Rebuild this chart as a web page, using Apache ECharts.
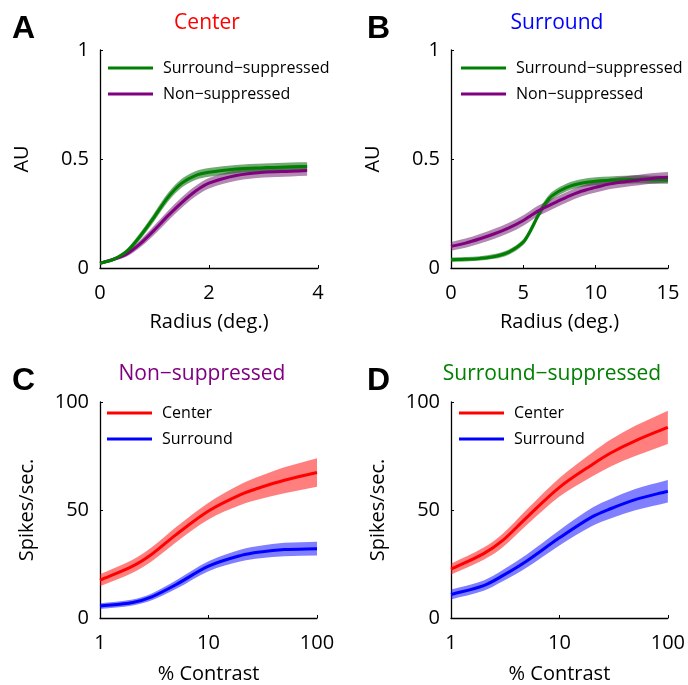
<!DOCTYPE html>
<html>
<head>
<meta charset="utf-8">
<script src="https://cdn.jsdelivr.net/npm/echarts@6/dist/echarts.min.js"></script>
<style>
  html, body { margin: 0; padding: 0; background: #fff; }
  #chart { width: 688px; height: 685px; }
</style>
</head>
<body>
<div id="chart"></div>
<script>
// ---- Radius tuning, center mechanism (deg.) ----
const radiusCenter = [0, 0.25, 0.5, 0.75, 1, 1.25, 1.5, 1.75, 2, 2.5, 3, 3.5, 3.8];
const centerSuppMean = [0.022, 0.04, 0.078, 0.15, 0.236, 0.325, 0.389, 0.424, 0.439, 0.454, 0.46, 0.465, 0.466];
const centerSuppSem  = [0.006, 0.008, 0.012, 0.016, 0.019, 0.02, 0.02, 0.02, 0.02, 0.019, 0.019, 0.019, 0.019];
const centerNonMean  = [0.022, 0.04, 0.066, 0.114, 0.175, 0.24, 0.30, 0.352, 0.389, 0.424, 0.439, 0.444, 0.447];
const centerNonSem   = [0.006, 0.008, 0.012, 0.017, 0.021, 0.023, 0.024, 0.024, 0.024, 0.024, 0.024, 0.024, 0.024];

// ---- Radius tuning, surround mechanism (deg.) ----
const radiusSurround = [0, 1, 2, 3, 4, 5, 5.5, 6, 6.5, 7, 8, 9, 10, 11, 12, 13, 14, 15];
const surrSuppMean = [0.038, 0.04, 0.044, 0.053, 0.073, 0.119, 0.172, 0.238, 0.294, 0.332, 0.37, 0.389, 0.398, 0.402, 0.405, 0.407, 0.405, 0.404];
const surrSuppSem  = [0.01, 0.01, 0.01, 0.011, 0.012, 0.014, 0.016, 0.017, 0.018, 0.018, 0.018, 0.018, 0.018, 0.018, 0.018, 0.018, 0.018, 0.018];
const surrNonMean  = [0.099, 0.114, 0.134, 0.157, 0.184, 0.218, 0.24, 0.261, 0.278, 0.294, 0.325, 0.352, 0.37, 0.386, 0.396, 0.404, 0.412, 0.416];
const surrNonSem   = [0.02, 0.021, 0.022, 0.023, 0.024, 0.024, 0.024, 0.024, 0.024, 0.024, 0.024, 0.024, 0.024, 0.024, 0.024, 0.024, 0.024, 0.024];

// ---- Contrast response (% contrast, spikes/sec.) ----
const contrast = [1, 2, 3, 5, 10, 20, 30, 50, 100];
const nonCenterMean = [17.5, 24.0, 29.5, 38.5, 49.5, 57.2, 60.4, 63.8, 67.4];
const nonCenterSem  = [2.8, 3.0, 3.2, 3.5, 3.9, 4.8, 5.3, 6.0, 6.6];
const nonSurrMean   = [5.5, 7.2, 9.8, 15.4, 24.0, 29.0, 30.6, 31.7, 32.1];
const nonSurrSem    = [1.3, 1.4, 1.6, 2.0, 2.3, 2.7, 2.9, 3.1, 3.2];
const suppCenterMean = [22.6, 29.8, 35.9, 46.6, 60.5, 71.0, 76.5, 82.0, 88.3];
const suppCenterSem  = [2.5, 2.8, 3.1, 3.6, 4.3, 5.5, 6.2, 7.0, 7.7];
const suppSurrMean   = [10.9, 15.0, 19.6, 26.4, 37.1, 46.8, 50.7, 54.8, 58.7];
const suppSurrSem    = [2.3, 2.4, 2.6, 3.0, 3.5, 4.2, 4.5, 4.9, 5.2];

// ---- Labels ----
const panelLetters = ['A', 'B', 'C', 'D'];
const panelTitles = ['Center', 'Surround', 'Non\u2212suppressed', 'Surround\u2212suppressed'];
const groupNames = ['Surround\u2212suppressed', 'Non\u2212suppressed'];
const mechNames = ['Center', 'Surround'];
const radiusTicks = [[0, 4, 2], [0, 15, 5]];
const auTicks = [0, 1, 0.5];
const rateTicks = [0, 100, 50];

const FONT = '"Open Sans", "Noto Sans", sans-serif';
const GREEN = '#008000', PURPLE = '#800080', RED = '#ff0000', BLUE = '#0000ff';
const bandColor = {
  [GREEN]: 'rgba(0,100,0,0.55)',
  [PURPLE]: 'rgba(100,20,100,0.5)',
  [RED]: 'rgba(255,0,0,0.5)',
  [BLUE]: 'rgba(0,0,255,0.5)'
};

const grids = [
  { left: 100, top: 50, width: 218, height: 218 },
  { left: 451, top: 50, width: 217, height: 218 },
  { left: 100, top: 402, width: 217, height: 216 },
  { left: 451, top: 402, width: 217, height: 216 }
];

function axisCommon(extra) {
  return Object.assign({
    axisLine: { show: true, onZero: false, lineStyle: { color: '#000', width: 1.3 } },
    axisTick: { show: true, inside: true, length: 3, lineStyle: { color: '#000', width: 1 } },
    axisLabel: { color: '#000', fontSize: 20, fontFamily: FONT },
    splitLine: { show: false },
    nameLocation: 'middle',
    nameTextStyle: { color: '#000', fontSize: 20, fontFamily: FONT }
  }, extra);
}

const xAxes = [
  axisCommon({ gridIndex: 0, type: 'value', min: radiusTicks[0][0], max: radiusTicks[0][1], interval: radiusTicks[0][2], name: 'Radius (deg.)', nameGap: 44 }),
  axisCommon({ gridIndex: 1, type: 'value', min: radiusTicks[1][0], max: radiusTicks[1][1], interval: radiusTicks[1][2], name: 'Radius (deg.)', nameGap: 44 }),
  axisCommon({ gridIndex: 2, type: 'log', logBase: 10, min: 1, max: 100, name: '% Contrast', nameGap: 46 }),
  axisCommon({ gridIndex: 3, type: 'log', logBase: 10, min: 1, max: 100, name: '% Contrast', nameGap: 46 })
];
xAxes.forEach(a => { a.axisLabel = Object.assign({}, a.axisLabel, { margin: 15 }); });

const yAxes = [0, 1, 2, 3].map(i => {
  const t = i < 2 ? auTicks : rateTicks;
  return axisCommon({
    gridIndex: i, type: 'value', min: t[0], max: t[1], interval: t[2],
    name: i < 2 ? 'AU' : 'Spikes/sec.', nameGap: i < 2 ? 68 : 63
  });
});
yAxes.forEach(a => { a.axisLabel = Object.assign({}, a.axisLabel, { margin: 11 }); });

// Cubic Hermite segments through pixel points ordered by x
function smoothSegments(pts) {
  const n = pts.length;
  const slope = pts.map((p, i) => {
    const a = pts[Math.max(i - 1, 0)], b = pts[Math.min(i + 1, n - 1)];
    return (b[1] - a[1]) / (b[0] - a[0]);
  });
  const segs = [];
  for (let i = 0; i < n - 1; i++) {
    const p1 = pts[i], p2 = pts[i + 1];
    const h = (p2[0] - p1[0]) / 3;
    segs.push([[p1[0] + h, p1[1] + slope[i] * h], [p2[0] - h, p2[1] - slope[i + 1] * h], p1, p2]);
  }
  return segs;
}
function forwardPath(segs) {
  return segs.map(s => ' C' + s[0][0] + ',' + s[0][1] + ' ' + s[1][0] + ',' + s[1][1] + ' ' + s[3][0] + ',' + s[3][1]).join('');
}
function backwardPath(segs) {
  return segs.slice().reverse().map(s => ' C' + s[1][0] + ',' + s[1][1] + ' ' + s[0][0] + ',' + s[0][1] + ' ' + s[2][0] + ',' + s[2][1]).join('');
}

// Shaded error band: lower edge left to right, upper edge back, closed
function bandSeries(gi, xs, mean, sem, color) {
  const data = xs.map((x, k) => [x, mean[k] - sem[k], mean[k] + sem[k]]);
  return {
    type: 'custom', xAxisIndex: gi, yAxisIndex: gi, silent: true, z: 1,
    data: data, encode: { x: 0, y: [1, 2] },
    renderItem: function (params, api) {
      if (params.dataIndex !== 0) return null;
      const lo = data.map(d => api.coord([d[0], d[1]]));
      const hi = data.map(d => api.coord([d[0], d[2]]));
      const last = hi[hi.length - 1];
      const pathData = 'M' + lo[0][0] + ',' + lo[0][1] + forwardPath(smoothSegments(lo)) +
        ' L' + last[0] + ',' + last[1] + backwardPath(smoothSegments(hi)) + ' Z';
      return { type: 'path', shape: { pathData: pathData }, style: { fill: bandColor[color] } };
    }
  };
}

// Mean curve drawn as a smooth stroke through the data points
function meanSeries(gi, xs, mean, name, color) {
  const data = xs.map((x, k) => [x, mean[k]]);
  return {
    type: 'custom', name: name, xAxisIndex: gi, yAxisIndex: gi, silent: true, z: 5,
    itemStyle: { color: color },
    data: data, encode: { x: 0, y: 1 },
    renderItem: function (params, api) {
      if (params.dataIndex !== 0) return null;
      const pts = data.map(d => api.coord(d));
      const pathData = 'M' + pts[0][0] + ',' + pts[0][1] + forwardPath(smoothSegments(pts));
      return { type: 'path', shape: { pathData: pathData }, style: { stroke: color, lineWidth: 3, fill: null, lineCap: 'butt', lineJoin: 'round' } };
    }
  };
}

const series = [];
function addCurve(gi, xs, mean, sem, name, color) {
  series.push(bandSeries(gi, xs, mean, sem, color));
  series.push(meanSeries(gi, xs, mean, name, color));
}

addCurve(0, radiusCenter, centerNonMean, centerNonSem, groupNames[1], PURPLE);
addCurve(0, radiusCenter, centerSuppMean, centerSuppSem, groupNames[0], GREEN);
addCurve(1, radiusSurround, surrSuppMean, surrSuppSem, groupNames[0], GREEN);
addCurve(1, radiusSurround, surrNonMean, surrNonSem, groupNames[1], PURPLE);
addCurve(2, contrast, nonCenterMean, nonCenterSem, mechNames[0], RED);
addCurve(2, contrast, nonSurrMean, nonSurrSem, mechNames[1], BLUE);
addCurve(3, contrast, suppCenterMean, suppCenterSem, mechNames[0], RED);
addCurve(3, contrast, suppSurrMean, suppSurrSem, mechNames[1], BLUE);

function legendAt(left, top, names, colors) {
  return {
    data: names.map((n, k) => ({ name: n, itemStyle: { color: colors[k] } })),
    orient: 'vertical', left: left, top: top, padding: 0,
    icon: 'rect', itemWidth: 45, itemHeight: 3, itemGap: 8,
    selectedMode: false,
    textStyle: { color: '#000', fontSize: 16, fontFamily: FONT, lineHeight: 18, padding: [0, 0, 0, 5] }
  };
}

const titleColors = [RED, BLUE, PURPLE, GREEN];
const titlePos = [[207, 23], [557, 23], [202, 374], [552, 374]];
const letterPos = [[12, 29], [367, 29], [12, 381], [367, 381]];
const graphics = [];
panelTitles.forEach((t, i) => {
  graphics.push({
    type: 'text', x: titlePos[i][0], y: titlePos[i][1],
    style: { text: t, fill: titleColors[i], font: '21px ' + FONT, textAlign: 'center', textVerticalAlign: 'middle' }
  });
  graphics.push({
    type: 'text', x: letterPos[i][0], y: letterPos[i][1],
    style: { text: panelLetters[i], fill: '#000', font: 'bold 32px "Liberation Sans", Arial, sans-serif', textAlign: 'left', textVerticalAlign: 'middle' }
  });
});

const chart = echarts.init(document.getElementById('chart'), null, { renderer: 'canvas' });
chart.setOption({
  animation: false,
  backgroundColor: '#fff',
  grid: grids,
  xAxis: xAxes,
  yAxis: yAxes,
  legend: [
    legendAt(108, 59, groupNames, [GREEN, PURPLE]),
    legendAt(461, 59, groupNames, [GREEN, PURPLE]),
    legendAt(107, 404, mechNames, [RED, BLUE]),
    legendAt(459, 404, mechNames, [RED, BLUE])
  ],
  graphic: graphics,
  series: series
});
</script>
</body>
</html>
